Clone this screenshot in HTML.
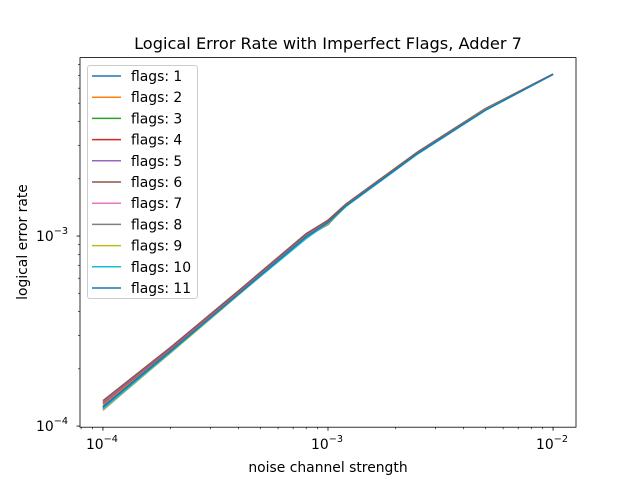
<!DOCTYPE html>
<html><head><meta charset="utf-8"><style>
body{margin:0;background:#fff;}
svg text{font-family:"DejaVu Sans","Liberation Sans",sans-serif;}
</style></head><body>
<svg id="chart" width="640" height="480" xmlns="http://www.w3.org/2000/svg">
<rect width="640" height="480" fill="#fff"/>
<text x="328" y="49" font-size="16.2" text-anchor="middle">Logical Error Rate with Imperfect Flags, Adder 7</text>
<text x="328" y="472" font-size="13.9" text-anchor="middle">noise channel strength</text>
<text x="0" y="0" font-size="13.9" text-anchor="middle" transform="translate(27,242) rotate(-90)">logical error rate</text>
<g id="series"></g>
<g id="ticks"></g>
<rect x="80" y="57.6" width="496" height="369.6" fill="none" stroke="#000" stroke-width="0.8"/>
<g id="legend"></g>
</svg>
<script>
const xs = [1e-4, 2e-4, 4e-4, 8e-4, 1e-3, 1.2e-3, 2.5e-3, 5e-3, 1e-2];
const labels = ["flags: 1","flags: 2","flags: 3","flags: 4","flags: 5","flags: 6","flags: 7","flags: 8","flags: 9","flags: 10","flags: 11"];
const colors = ["#1f77b4","#ff7f0e","#2ca02c","#d62728","#9467bd","#8c564b","#e377c2","#7f7f7f","#bcbd22","#17becf","#1f77b4"];
const s1  = [1.27e-4, 2.50e-4, 5.0e-4, 1.00e-3, 1.19e-3, 1.45e-3, 2.73e-3, 4.62e-3, 7.1e-3];
const s2  = [1.30e-4, 2.55e-4, 5.05e-4, 1.01e-3, 1.20e-3, 1.46e-3, 2.75e-3, 4.65e-3, 7.1e-3];
const s3  = [1.25e-4, 2.47e-4, 4.95e-4, 0.99e-3, 1.15e-3, 1.44e-3, 2.72e-3, 4.62e-3, 7.1e-3];
const s4  = [1.32e-4, 2.56e-4, 5.1e-4, 1.02e-3, 1.21e-3, 1.47e-3, 2.76e-3, 4.67e-3, 7.12e-3];
const s5  = [1.33e-4, 2.57e-4, 5.1e-4, 1.02e-3, 1.20e-3, 1.46e-3, 2.75e-3, 4.66e-3, 7.1e-3];
const s6  = [1.36e-4, 2.60e-4, 5.15e-4, 1.03e-3, 1.21e-3, 1.47e-3, 2.77e-3, 4.68e-3, 7.12e-3];
const s7  = [1.21e-4, 2.45e-4, 4.93e-4, 0.99e-3, 1.16e-3, 1.44e-3, 2.72e-3, 4.62e-3, 7.08e-3];
const s8  = [1.24e-4, 2.48e-4, 4.97e-4, 1.00e-3, 1.15e-3, 1.45e-3, 2.73e-3, 4.63e-3, 7.1e-3];
const s9  = [1.22e-4, 2.43e-4, 4.9e-4, 0.98e-3, 1.16e-3, 1.43e-3, 2.71e-3, 4.61e-3, 7.08e-3];
const s10 = [1.23e-4, 2.45e-4, 4.92e-4, 0.97e-3, 1.17e-3, 1.43e-3, 2.70e-3, 4.58e-3, 7.08e-3];
const s11 = [1.26e-4, 2.48e-4, 4.96e-4, 0.99e-3, 1.18e-3, 1.44e-3, 2.72e-3, 4.60e-3, 7.1e-3];
const series = [s1,s2,s3,s4,s5,s6,s7,s8,s9,s10,s11];
const xTicks = [1e-4, 1e-3, 1e-2];
const xTickLabels = ["-4","-3","-2"];
const yTicks = [1e-4, 1e-3];
const yTickLabels = ["-4","-3"];

const NS="http://www.w3.org/2000/svg";
const X0=80,X1=576,Y0=427.2,Y1=57.6;
const xmin=-4.102,xmax=-1.898,ymin=-4.006,ymax=-2.061;
function xp(v){return X0+(Math.log10(v)-xmin)/(xmax-xmin)*(X1-X0);}
function yp(v){return Y0-(Math.log10(v)-ymin)/(ymax-ymin)*(Y0-Y1);}
function mk(tag,attrs,parent){const e=document.createElementNS(NS,tag);for(const k in attrs)e.setAttribute(k,attrs[k]);parent.appendChild(e);return e;}

const sg=document.getElementById('series');
series.forEach((s,i)=>{
  const d=s.map((v,j)=>(j?'L':'M')+xp(xs[j]).toFixed(2)+','+yp(v).toFixed(2)).join(' ');
  const p=mk('path',{d:d,fill:'none',stroke:colors[i],'stroke-width':1.5},sg);
  
  
});

const tg=document.getElementById('ticks');
xTicks.forEach((t,i)=>{
  const x=xp(t);
  mk('line',{x1:x,x2:x,y1:Y0,y2:Y0+3.5,stroke:'#000','stroke-width':0.8},tg);
  const tx=mk('text',{x:x-1,y:Y0+22,'font-size':13.9,'text-anchor':'middle'},tg);
  
  
  tx.innerHTML='10<tspan dy="-7" font-size="9.7">−'+xTickLabels[i].slice(1)+'</tspan>';
});
for(let e=-5;e<=-2;e++){for(let m=2;m<=9;m++){const v=m*Math.pow(10,e);const L=Math.log10(v);if(L<xmin||L>xmax)continue;const x=xp(v);mk('line',{x1:x,x2:x,y1:Y0,y2:Y0+2,stroke:'#000','stroke-width':0.6},tg);}}
yTicks.forEach((t,i)=>{
  const y=yp(t);
  mk('line',{x1:X0,x2:X0-3.5,y1:y,y2:y,stroke:'#000','stroke-width':0.8},tg);
  const tx=mk('text',{x:X0-28,y:y+5,'font-size':13.9,'text-anchor':'middle'},tg);
  
  
  tx.innerHTML='10<tspan dy="-7" font-size="9.7">−'+yTickLabels[i].slice(1)+'</tspan>';
});
for(let e=-5;e<=-2;e++){for(let m=2;m<=9;m++){const v=m*Math.pow(10,e);const L=Math.log10(v);if(L<ymin||L>ymax)continue;const y=yp(v);mk('line',{x1:X0,x2:X0-2,y1:y,y2:y,stroke:'#000','stroke-width':0.6},tg);}}

const lg=document.getElementById('legend');
mk('rect',{x:87.5,y:65.5,width:110,height:233,rx:2.5,fill:'#fff','fill-opacity':0.8,stroke:'#ccc','stroke-width':1},lg);
labels.forEach((l,i)=>{
  const y=76+i*21.2;
  const ln=mk('line',{x1:92,x2:121,y1:y,y2:y,stroke:colors[i],'stroke-width':1.5},lg);
  
  
  const t=mk('text',{x:131,y:y+5,'font-size':13.9},lg);
  
  
  t.textContent=l;
});
</script>
</body></html>
